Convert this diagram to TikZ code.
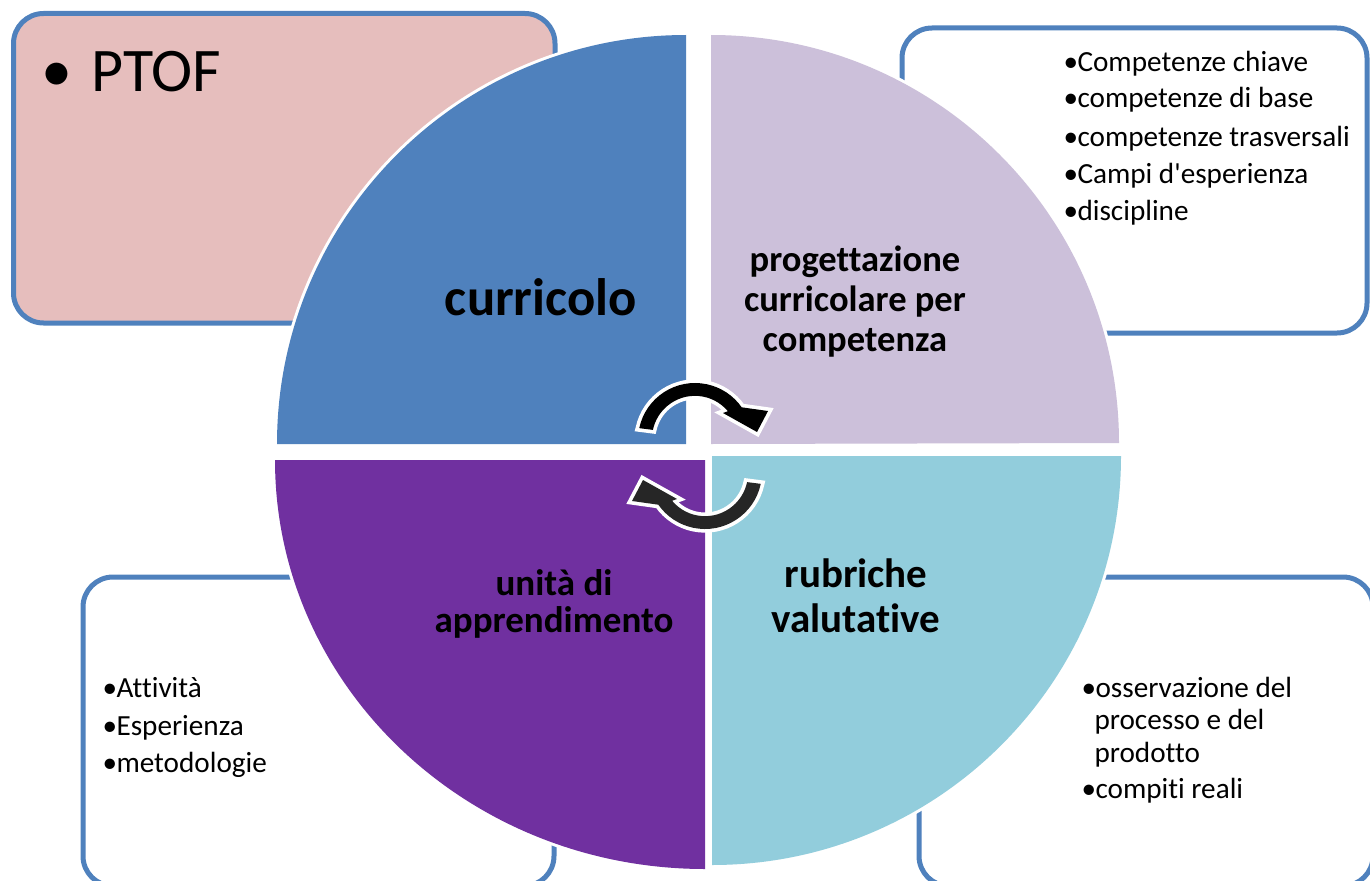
\documentclass[tikz,border=0pt]{standalone}
\usepackage{fontspec}
\setmainfont{Carlito}[Ligatures=CommonOff]

\tikzset{every picture/.style={line width=0.75pt}}
\tikzset{
  frm/.style={draw={rgb, 255:red, 79; green, 129; blue, 189 }, line width=3.75pt, rounded corners=22.5pt},
  sect/.style={preaction={draw=white, line width=4.5pt}},
  arw/.style={preaction={draw=white, line width=5.5pt}},
  lbl/.style={anchor=base, inner sep=0pt},
  itm/.style={anchor=base west, inner sep=0pt, font=\fontsize{21.9}{26}\selectfont},
}
\newcommand{\blt}{\makebox[10.5pt][l]{\textbullet}}

\begin{document}
\begin{tikzpicture}[x=0.75pt,y=0.75pt,yscale=-1,xscale=1]
    \useasboundingbox (0,0) rectangle (1370,881);

    %Shape: Rounded Rect [PTOF]
    \draw [frm, fill={rgb, 255:red, 230; green, 190; blue, 189 }] (13.5,13.5) rectangle (555,323);
    %Shape: Rounded Rect [competenze]
    \draw [frm, fill=white] (902,28) rectangle (1367,333);
    %Shape: Rounded Rect [attivita]
    \draw [frm, fill=white] (83,577) rectangle (554,886);
    %Shape: Rounded Rect [osservazione]
    \draw [frm, fill=white] (919,577) rectangle (1373,886);

    %Shape: Quarter [curricolo]
    \fill [sect, fill={rgb, 255:red, 79; green, 129; blue, 189 }] (686,444) -- (277,444) arc[start angle=180, end angle=270, radius=409] -- cycle;
    %Shape: Quarter [progettazione]
    \fill [sect, fill={rgb, 255:red, 204; green, 192; blue, 218 }] (711,444) -- (711,35) arc[start angle=270, end angle=360, radius=408] -- cycle;
    %Shape: Quarter [rubriche]
    \fill [sect, fill={rgb, 255:red, 146; green, 205; blue, 220 }] (712,456) -- (1121,456) arc[start angle=0, end angle=90, radius=409] -- cycle;
    %Shape: Quarter [unita]
    \fill [sect, fill={rgb, 255:red, 112; green, 48; blue, 160 }] (705,460) -- (705,869) arc[start angle=90, end angle=180, x radius=430, y radius=409] -- cycle;

    %Shape: Circular Arrow [top]
    \fill [arw, fill=black] (639.25,428.15) arc[start angle=192, end angle=325, radius=57] -- (768,411) -- (757,432) -- (723,413) -- (727.9,411.2) arc[start angle=320, end angle=192, radius=43] -- cycle;
    %Shape: Circular Arrow [bottom]
    \begin{scope}[rotate around={180:(700,456)}]
    \fill [arw, fill={rgb, 255:red, 38; green, 38; blue, 38 }] (639.25,428.15) arc[start angle=192, end angle=325, radius=57] -- (768,411) -- (757,432) -- (723,413) -- (727.9,411.2) arc[start angle=320, end angle=192, radius=43] -- cycle;
    \end{scope}

    % Text Node
    \node [lbl, font=\fontsize{39.5}{47}\selectfont\bfseries] (curr) at (541,315) {curricolo};
    % Text Node
    \node [lbl, font=\fontsize{27.4}{33}\selectfont\bfseries] (prog1) at (855,271) {progettazione};
    \node [lbl, font=\fontsize{27.4}{33}\selectfont\bfseries] (prog2) at (855,311) {curricolare per};
    \node [lbl, font=\fontsize{27.4}{33}\selectfont\bfseries] (prog3) at (855,351) {competenza};
    % Text Node
    \node [lbl, font=\fontsize{27.75}{33}\selectfont\bfseries] (unit1) at (554,595) {unità di};
    \node [lbl, font=\fontsize{27.75}{33}\selectfont\bfseries] (unit2) at (554,632) {apprendimento};
    % Text Node
    \node [lbl, font=\fontsize{30.75}{37}\selectfont\bfseries] (rub1) at (856,587) {rubriche};
    \node [lbl, font=\fontsize{30.75}{37}\selectfont\bfseries] (rub2) at (856,632) {valutative};

    % Text Node
    \node [anchor=base west, inner sep=0pt, font=\fontsize{46.5}{56}\selectfont] (ptof) at (41,92) {\makebox[37.5pt][l]{\textbullet}PTOF};

    % Text Node
    \node [itm] (comp1) at (1063,72) {\blt Competenze chiave};
    \node [itm] (comp2) at (1063,108) {\blt competenze di base};
    \node [itm] (comp3) at (1063,146) {\blt competenze trasversali};
    \node [itm] (comp4) at (1063,183) {\blt Campi d\textquotesingle esperienza};
    \node [itm] (comp5) at (1063,220) {\blt discipline};
    % Text Node
    \node [itm] (att1) at (102,697) {\blt Attività};
    \node [itm] (att2) at (102,735) {\blt Esperienza};
    \node [itm] (att3) at (102,772) {\blt metodologie};
    % Text Node
    \node [itm] (oss1) at (1081,697) {\blt osservazione del};
    \node [itm] (oss2) at (1094,729) {processo e del};
    \node [itm] (oss3) at (1094,762) {prodotto};
    \node [itm] (oss4) at (1081,798) {\blt compiti reali};

\end{tikzpicture}
\end{document}
